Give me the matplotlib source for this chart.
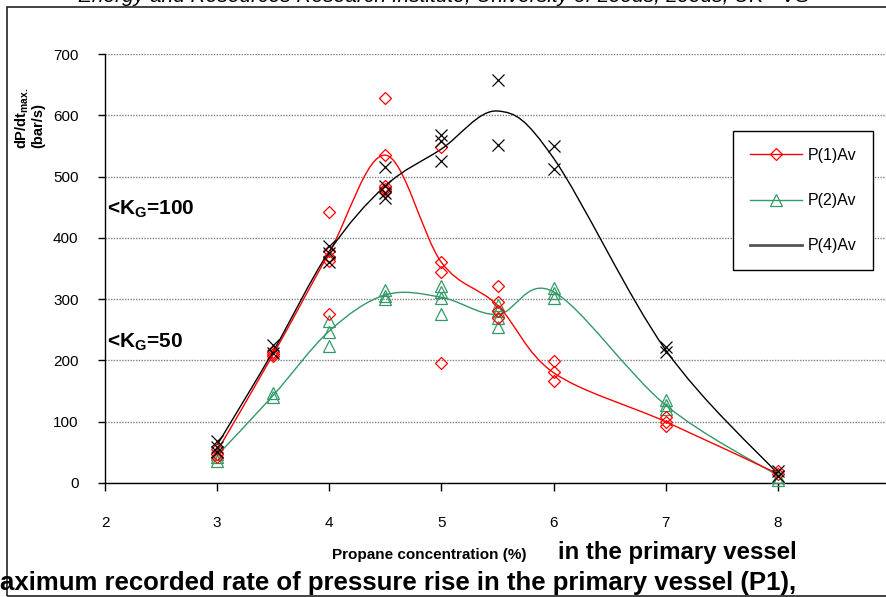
import matplotlib
matplotlib.use('Agg')
import matplotlib.pyplot as plt
from matplotlib.path import Path
from matplotlib.patches import PathPatch, Rectangle
from matplotlib.lines import Line2D

plt.rcParams['font.family'] = ['Liberation Sans', 'DejaVu Sans']
plt.rcParams['mathtext.fontset'] = 'custom'
plt.rcParams['mathtext.rm'] = 'Liberation Sans'
plt.rcParams['mathtext.bf'] = 'Liberation Sans:bold'
plt.rcParams['mathtext.it'] = 'Liberation Sans:italic'

# ---------------- data ----------------
conc = [3, 3.5, 4, 4.5, 5, 5.5, 6, 7, 8]

# averaged (smoothed) lines
p1_line = [52, 210, 376, 535, 360, 290, 180, 100, 15]
p2_line = [45, 143, 248, 307, 303, 275, 312, 127, 12]
p4_line = [62, 215, 378, 485, 545, 607, 530, 217, 15]

# individual measurements
p1_x = [3, 3, 3, 3.5, 3.5, 3.5, 4, 4, 4, 4, 4, 4.5, 4.5, 4.5, 4.5, 4.5,
        5, 5, 5, 5, 5.5, 5.5, 5.5, 5.5, 6, 6, 6, 7, 7, 7, 8, 8]
p1_y = [42, 48, 55, 207, 210, 214, 443, 378, 368, 362, 275, 628, 535, 485, 480, 476,
        548, 360, 344, 196, 321, 295, 280, 270, 199, 181, 166, 108, 100, 93, 20, 15]

p2_x = [3, 3, 3, 3.5, 3.5, 4, 4, 4, 4.5, 4.5, 4.5, 5, 5, 5, 5,
        5.5, 5.5, 5.5, 5.5, 6, 6, 6, 7, 7, 7, 8, 8]
p2_y = [48, 42, 36, 147, 140, 265, 247, 223, 315, 305, 300, 322, 312, 302, 275,
        290, 280, 270, 255, 318, 310, 302, 135, 127, 120, 10, 5]

p4_x = [3, 3, 3, 3.5, 3.5, 4, 4, 4, 4.5, 4.5, 4.5, 4.5, 5, 5, 5,
        5.5, 5.5, 6, 6, 7, 7, 8, 8]
p4_y = [68, 58, 50, 225, 212, 387, 375, 360, 515, 485, 473, 465, 568, 558, 525,
        657, 551, 550, 513, 222, 214, 20, 12]

series_labels = ['P(1)Av', 'P(2)Av', 'P(4)Av']
x_ticks = [2, 3, 4, 5, 6, 7, 8, 9]
y_ticks = [0, 100, 200, 300, 400, 500, 600, 700]

RED = '#ff0000'
GREEN = '#339966'
BLACK = '#000000'

W, H = 886, 597
fig = plt.figure(figsize=(W / 100, H / 100), dpi=100)


def px(x):
    return x / W


def py(y):
    return 1 - y / H


ax = fig.add_axes([px(105), py(483), (890 - 105) / W, (483 - 54) / H])
ax.set_xlim(2, 9)
ax.set_ylim(0, 700)
ax.set_xticks(x_ticks)
ax.set_yticks(y_ticks)
for s in ['top', 'right']:
    ax.spines[s].set_visible(False)
for s in ['left', 'bottom']:
    ax.spines[s].set_linewidth(1.0)
    ax.spines[s].set_color('black')
ax.tick_params(axis='y', direction='out', length=5, width=1, pad=14, labelsize=11)
ax.tick_params(axis='x', direction='out', length=6, width=1, pad=18, labelsize=11)
ax.yaxis.grid(True, color='#808080', linestyle=(0, (1, 1)), linewidth=1)
ax.set_axisbelow(True)


def smooth_path(xs, ys):
    # Excel-like smoothed line: cubic Bezier segments through the data points
    n = len(xs)
    verts = [(xs[0], ys[0])]
    codes = [Path.MOVETO]
    for i in range(n - 1):
        x0, y0 = xs[i], ys[i]
        x1, y1 = xs[i + 1], ys[i + 1]
        xm, ym = (xs[i - 1], ys[i - 1]) if i > 0 else (x0, y0)
        xp, yp = (xs[i + 2], ys[i + 2]) if i + 2 < n else (x1, y1)
        c1 = (x0 + (x1 - xm) / 6, y0 + (y1 - ym) / 6)
        c2 = (x1 - (xp - x0) / 6, y1 - (yp - y0) / 6)
        verts += [c1, c2, (x1, y1)]
        codes += [Path.CURVE4, Path.CURVE4, Path.CURVE4]
    return Path(verts, codes)


for vals, col in [(p2_line, GREEN), (p1_line, RED), (p4_line, BLACK)]:
    ax.add_patch(PathPatch(smooth_path(conc, vals), facecolor='none',
                           edgecolor=col, linewidth=1.0, zorder=3))

ax.plot(p2_x, p2_y, linestyle='none', marker='^', markersize=8, markerfacecolor='none',
        markeredgecolor=GREEN, markeredgewidth=0.9, clip_on=False, zorder=4)
ax.plot(p1_x, p1_y, linestyle='none', marker='D', markersize=5.8, markerfacecolor='none',
        markeredgecolor=RED, markeredgewidth=0.9, clip_on=False, zorder=5)
ax.plot(p4_x, p4_y, linestyle='none', marker='x', markersize=8.5,
        markeredgecolor=BLACK, markeredgewidth=0.9, clip_on=False, zorder=6)

handles = [
    Line2D([], [], color=RED, lw=1.0, marker='D', markersize=5.8, markerfacecolor='none',
           markeredgecolor=RED, markeredgewidth=0.9),
    Line2D([], [], color=GREEN, lw=1.0, marker='^', markersize=8, markerfacecolor='none',
           markeredgecolor=GREEN, markeredgewidth=0.9),
    Line2D([], [], color='#555555', lw=2.0),
]
leg = fig.legend(handles, series_labels, loc='upper left',
                 bbox_to_anchor=(px(733), py(131)), bbox_transform=fig.transFigure,
                 borderaxespad=0, fontsize=11.5, handlelength=3.3, handletextpad=0.3,
                 labelspacing=1.9, borderpad=1.05, fancybox=False, framealpha=1,
                 edgecolor='black')
leg.get_frame().set_linewidth(1.0)

# texts
fig.text(px(444), py(2), 'Energy and Resources Research Institute, University of Leeds, Leeds, UK - VS',
         ha='center', va='baseline', style='italic', fontsize=15)
fig.text(px(22), py(118), r'dP/dt$_{\mathbf{max.}}$', rotation=90, ha='center', va='center',
         fontweight='bold', fontsize=10.5)
fig.text(px(38), py(125), '(bar/s)', rotation=90, ha='center', va='center',
         fontweight='bold', fontsize=10.5)
fig.text(px(107), py(215), r'<K$_{\mathbf{G}}$=100', ha='left', va='baseline',
         fontweight='bold', fontsize=15)
fig.text(px(107), py(348), r'<K$_{\mathbf{G}}$=50', ha='left', va='baseline',
         fontweight='bold', fontsize=15)
fig.text(px(332), py(559), 'Propane concentration (%)', ha='left', va='baseline',
         fontweight='bold', fontsize=11)
fig.text(px(558), py(559), 'in the primary vessel', ha='left', va='baseline',
         fontweight='bold', fontsize=17.3)
fig.text(px(0), py(590), 'aximum recorded rate of pressure rise in the primary vessel (P1),',
         ha='left', va='baseline', fontweight='bold', fontsize=18.5)

fig.add_artist(Rectangle((px(7), py(596)), 1.2, py(7) - py(596), transform=fig.transFigure,
                         fill=False, edgecolor='#222222', linewidth=1.2))

fig.savefig('out.png', dpi=100)
